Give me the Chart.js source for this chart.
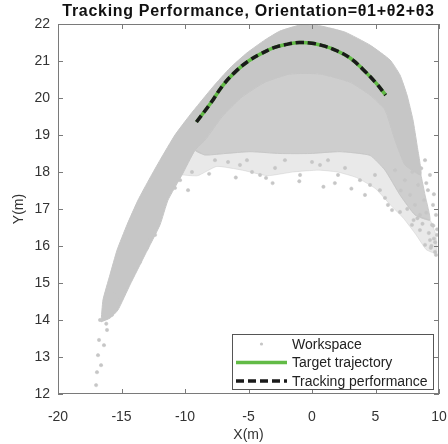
<!DOCTYPE html>
<html>
<head>
<meta charset="utf-8">
<script src="https://cdn.jsdelivr.net/npm/chart.js@4"></script>
<style>
  html, body { margin: 0; padding: 0; background: #fff; }
  canvas { display: block; }
</style>
</head>
<body>
<canvas id="c" width="448" height="444"></canvas>
<script>
const PLOT_TITLE = 'Tracking Performance, Orientation=θ1+θ2+θ3';

// Axis ticks
const xTickValues = [-20, -15, -10, -5, 0, 5, 10];
const yTickValues = [12, 13, 14, 15, 16, 17, 18, 19, 20, 21, 22];

// Target trajectory (end-effector path)
const targetX = [-9.1, -8.0, -7.0, -6.0, -5.0, -4.0, -3.0, -2.0, -1.0, 0.0, 1.0, 2.0, 3.0, 4.0, 5.0, 5.8];
const targetY = [19.35, 19.85, 20.35, 20.72, 21.0, 21.2, 21.36, 21.45, 21.5, 21.48, 21.4, 21.27, 21.08, 20.78, 20.42, 20.08];

// Tracked trajectory
const trackX = [-9.1, -8.0, -7.0, -6.0, -5.0, -4.0, -3.0, -2.0, -1.0, 0.0, 1.0, 2.0, 3.0, 4.0, 5.0, 5.8];
const trackY = [19.35, 19.85, 20.35, 20.72, 21.0, 21.2, 21.36, 21.45, 21.5, 21.48, 21.4, 21.27, 21.08, 20.78, 20.42, 20.08];

// Reachable workspace: densely sampled band (closed outline)
const denseX = [-16.61, -16.46, -15.91, -15.35, -14.57, -13.70, -12.76, -11.97, -10.79, -9.61, -7.80, -6.46, -5.12, -3.70, -2.52, -0.94, 0.63, 2.60, 4.57, 6.14, 6.93, 7.48, 7.95, 8.27, 8.58,
                7.32, 6.54, 5.75, 4.57, 2.99, 0.63, -1.73, -3.70, -5.51, -7.09, -8.43, -9.21, -10.24, -11.34, -11.97, -13.15, -14.33, -15.28, -15.91, -16.61];
const denseY = [13.95, 14.54, 15.22, 15.89, 16.57, 17.24, 17.84, 18.32, 19.0, 19.54, 20.30, 20.81, 21.22, 21.57, 21.81, 21.97, 21.95, 21.78, 21.43, 21.03, 20.62, 20.08, 19.41, 18.73, 17.92,
                18.19, 18.86, 19.68, 20.08, 20.43, 20.65, 20.65, 20.43, 20.03, 19.49, 18.86, 18.59, 17.92, 17.24, 16.57, 15.76, 14.95, 14.27, 14.05, 13.95];

// Reachable workspace: thinner samples under the band (closed outline)
const thinX = [8.58, 7.32, 6.54, 5.75, 4.57, 2.99, 0.63, -1.73, -3.70, -5.51, -7.09, -8.43, -9.21,
               -8.43, -6.85, -4.88, -2.52, -0.16, 2.20, 4.57, 5.75, 6.93, 8.11, 9.29, 8.90, 8.58];
const thinY = [17.92, 18.19, 18.86, 19.68, 20.08, 20.43, 20.65, 20.65, 20.43, 20.03, 19.49, 18.86, 18.59,
               18.46, 18.5, 18.55, 18.5, 18.5, 18.55, 18.45, 18.05, 17.38, 16.84, 16.7, 17.38, 17.92];

// Reachable workspace: sparse fringe below the thinner samples (closed outline)
const fringeX = [-10.24, -9.21, -8.43, -6.85, -4.88, -2.52, -0.16, 2.20, 4.57, 5.75, 6.93, 8.11, 9.29, 9.75, 9.8,
                 9.0, 8.2, 7.2, 6.2, 5.0, 3.5, 2.0, 0.5, -1.5, -3.5, -5.5, -7.5, -9.0, -10.24];
const fringeY = [17.92, 18.59, 18.46, 18.5, 18.55, 18.5, 18.5, 18.55, 18.45, 18.05, 17.38, 16.84, 16.7, 16.3, 15.8,
                 15.9, 16.3, 16.75, 17.1, 17.55, 17.85, 18.0, 18.05, 18.0, 17.9, 18.05, 18.15, 17.9, 17.92];

// Reachable workspace: isolated samples
const sampleX = [-17.0, -16.93, -16.61, -16.85, -16.38, -16.77, -16.14, -16.69, -15.75, -15.12, -14.72, -14.02, -13.54, -12.99, -12.76, -12.36, -15.6, -16.2,
                 -10.0, -9.45, -10.39, -10.79, -9.76, -7.64, -6.61, -5.67, -5.12, -4.72, -4.09, -3.62, -2.91, -2.13, -0.94, 0.0, 0.63, 1.26, 2.05, 2.60, 3.78, 4.17, 4.57, 4.96, 5.35, 5.75,
                 8.90, 9.29, 9.13, 9.53, 9.76, 9.45, 9.84, 9.29, 9.69, 8.5, 8.11, 8.82, 7.72, 8.35, 7.32, 6.54, 5.98, 6.30, 6.93, 7.87, 8.5, 8.90, 9.76,
                 7.0, 7.5, 8.0, 9.0, 9.6, 9.0, 7.9, 8.6, 9.4, 9.55, 9.2, 9.7, 8.7, 8.3, 9.85, 9.35, 9.6,
                 -1.0, 1.8, 3.1, -6.0, -8.1, -3.1, 0.9];
const sampleY = [12.24, 12.59, 12.78, 13.05, 13.32, 13.46, 13.73, 14.0, 14.14, 14.54, 14.81, 15.35, 15.57, 15.95, 16.16, 16.3, 14.7, 13.9,
                 18.19, 18.0, 17.78, 17.57, 17.51, 18.32, 18.27, 18.19, 18.32, 18.0, 17.92, 17.84, 18.11, 18.32, 17.92, 18.27, 18.19, 18.32, 17.92, 18.11, 17.78, 17.38, 17.65, 17.92, 17.51, 17.3,
                 18.32, 17.92, 17.51, 17.11, 16.84, 16.57, 16.3, 16.16, 15.84, 16.84, 17.11, 17.24, 17.38, 17.65, 17.78, 18.05, 17.11, 16.97, 16.92, 16.57, 16.43, 16.03, 15.76,
                 17.5, 17.0, 16.7, 16.9, 17.4, 17.7, 18.0, 18.1, 16.0, 16.55, 16.35, 16.1, 16.6, 16.75, 16.45, 15.95, 16.2,
                 17.75, 17.7, 17.55, 17.85, 17.95, 17.7, 17.6];

const pts = (xs, ys) => xs.map((x, i) => ({x, y: ys[i]}));

const GREY = '#c6c6c6';
const FONT = "'Liberation Sans', Arial, sans-serif";

// Bold title centred over the plotting area
const plotTitle = {
  id: 'plotTitle',
  afterDraw(chart) {
    const {ctx, chartArea: a} = chart;
    ctx.save();
    ctx.font = 'bold 16px ' + FONT;
    ctx.letterSpacing = '0.7px';
    ctx.fillStyle = '#111';
    ctx.textAlign = 'center';
    ctx.textBaseline = 'middle';
    ctx.fillText(PLOT_TITLE, (a.left + a.right) / 2, 12);
    ctx.restore();
  }
};

// Box around the axes with inward tick marks on all four sides
const axesFrame = {
  id: 'axesFrame',
  afterDatasetsDraw(chart) {
    const {ctx, chartArea: a, scales: {x, y}} = chart;
    ctx.save();
    ctx.strokeStyle = '#7a7a7a';
    ctx.lineWidth = 1;
    ctx.strokeRect(a.left + 0.5, a.top + 0.5, a.right - a.left - 1, a.bottom - a.top - 1);
    ctx.beginPath();
    x.ticks.forEach(t => {
      const p = Math.round(x.getPixelForValue(t.value)) + 0.5;
      ctx.moveTo(p, a.bottom); ctx.lineTo(p, a.bottom - 5);
      ctx.moveTo(p, a.top); ctx.lineTo(p, a.top + 5);
    });
    y.ticks.forEach(t => {
      const p = Math.round(y.getPixelForValue(t.value)) + 0.5;
      ctx.moveTo(a.left, p); ctx.lineTo(a.left + 5, p);
      ctx.moveTo(a.right, p); ctx.lineTo(a.right - 5, p);
    });
    ctx.stroke();
    ctx.restore();
  }
};

// Boxed legend in the lower right corner of the axes
const boxLegend = {
  id: 'boxLegend',
  afterDraw(chart) {
    const {ctx, chartArea: a} = chart;
    const items = chart.data.datasets.filter(d => d.inLegend);
    const w = 201, h = 55;
    const left = a.right - 6 - w, top = a.bottom - 5 - h;
    ctx.save();
    ctx.fillStyle = '#fff';
    ctx.fillRect(left, top, w, h);
    ctx.strokeStyle = '#555';
    ctx.lineWidth = 1;
    ctx.strokeRect(left + 0.5, top + 0.5, w, h);
    ctx.font = '14px ' + FONT;
    ctx.textBaseline = 'middle';
    ctx.fillStyle = '#222';
    items.forEach((d, i) => {
      const cy = top + 10 + i * 18.5;
      const sx0 = left + 4, sx1 = left + 55;
      if (d.showLine) {
        ctx.save();
        ctx.strokeStyle = d.borderColor;
        ctx.lineWidth = d.borderWidth;
        ctx.setLineDash(d.borderDash || []);
        ctx.beginPath();
        ctx.moveTo(sx0, cy); ctx.lineTo(sx1, cy);
        ctx.stroke();
        ctx.restore();
      } else {
        ctx.save();
        ctx.fillStyle = d.backgroundColor;
        ctx.beginPath();
        ctx.arc((sx0 + sx1) / 2, cy, 1.6, 0, Math.PI * 2);
        ctx.fill();
        ctx.restore();
      }
      ctx.fillText(d.label, left + 60, cy + 1);
    });
    ctx.restore();
  }
};

new Chart(document.getElementById('c'), {
  type: 'scatter',
  data: {
    datasets: [
      {
        label: 'Workspace band', data: pts(denseX, denseY), showLine: true, fill: 'shape',
        backgroundColor: GREY, borderColor: GREY, borderWidth: 1, pointRadius: 0, tension: 0.15, order: 7
      },
      {
        label: 'Workspace thin', data: pts(thinX, thinY), showLine: true, fill: 'shape',
        backgroundColor: 'rgba(198,198,198,0.86)', borderColor: 'rgba(198,198,198,0.86)', borderWidth: 1, pointRadius: 0, tension: 0.15, order: 6
      },
      {
        label: 'Workspace fringe', data: pts(fringeX, fringeY), showLine: true, fill: 'shape',
        backgroundColor: 'rgba(198,198,198,0.38)', borderColor: 'rgba(198,198,198,0.38)', borderWidth: 1, pointRadius: 0, tension: 0.15, order: 5
      },
      {
        label: 'Workspace', inLegend: true, data: pts(sampleX, sampleY), showLine: false,
        backgroundColor: GREY, borderColor: GREY, borderWidth: 0.5, pointRadius: 1.7, order: 4
      },
      {
        label: 'Target trajectory', inLegend: true, data: pts(targetX, targetY), showLine: true,
        borderColor: '#62bb46', backgroundColor: '#62bb46', borderWidth: 3.5, pointRadius: 0, tension: 0.4, order: 2
      },
      {
        label: 'Tracking performance', inLegend: true, data: pts(trackX, trackY), showLine: true,
        borderColor: '#1a1a1a', backgroundColor: '#1a1a1a', borderWidth: 3.5, borderDash: [8, 4], pointRadius: 0, tension: 0.4, order: 1
      }
    ]
  },
  options: {
    responsive: false,
    animation: false,
    devicePixelRatio: 1,
    layout: { padding: { top: 24, right: 9, left: 0, bottom: 0 } },
    plugins: {
      legend: { display: false },
      tooltip: { enabled: false },
      title: { display: false }
    },
    scales: {
      x: {
        type: 'linear', min: -20, max: 10,
        afterBuildTicks: s => { s.ticks = xTickValues.map(v => ({value: v})); },
        afterFit: s => { s.height = 50; s.paddingLeft = 0; s.paddingRight = 0; },
        grid: { display: false, drawTicks: false },
        border: { display: false },
        ticks: { color: '#333', font: { family: FONT, size: 14 }, padding: 15, maxRotation: 0 },
        title: { display: true, text: 'X(m)', color: '#333', font: { family: FONT, size: 14 }, padding: { top: 4, bottom: 0 } }
      },
      y: {
        type: 'linear', min: 12, max: 22,
        afterBuildTicks: s => { s.ticks = yTickValues.map(v => ({value: v})); },
        afterFit: s => { s.width = 58; s.paddingTop = 0; s.paddingBottom = 0; },
        grid: { display: false, drawTicks: false },
        border: { display: false },
        ticks: { color: '#333', font: { family: FONT, size: 14 }, padding: 8 },
        title: { display: true, text: 'Y(m)', color: '#333', font: { family: FONT, size: 14 }, padding: { top: 10.6, bottom: 0 } }
      }
    }
  },
  plugins: [plotTitle, axesFrame, boxLegend]
});
</script>
</body>
</html>
